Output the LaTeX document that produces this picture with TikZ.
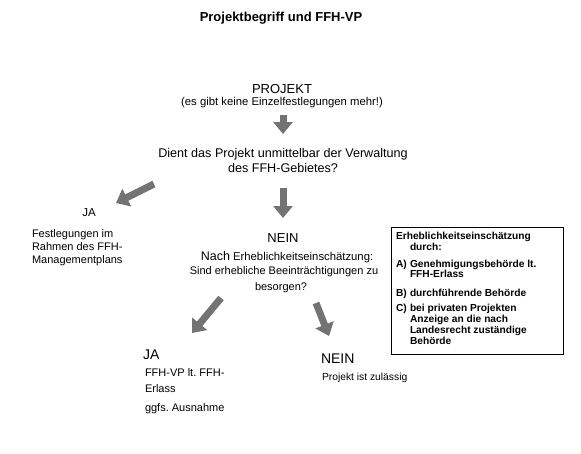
\documentclass[tikz,border=0pt]{standalone}
\usepackage{fontspec}
\setmainfont{Liberation Sans}
\usetikzlibrary{arrows.meta}
\frenchspacing
\definecolor{arrowgray}{RGB}{115,115,115}
\newcommand{\fs}[1]{\fontsize{#1}{#1}\selectfont}
\tikzset{
  blockarrow/.style={draw=arrowgray, line width=7pt, -{Triangle[width=19pt,length=12pt]}},
  txt/.style={inner sep=0pt, outer sep=0pt},
  ctr/.style={txt, anchor=base},
  lft/.style={txt, anchor=base west},
  boxtxt/.style={txt, anchor=base west, font=\fs{10.2}\bfseries},
}
\begin{document}
\begin{tikzpicture}[x=1pt, y=-1pt]
\useasboundingbox (0,0) rectangle (581,453);
% title
\node[ctr, font=\fs{13}\bfseries] (title) at (281,21) {Projektbegriff und FFH-VP};
% project
\node[ctr, font=\fs{13}] (proj) at (282,93) {PROJEKT};
\node[ctr, font=\fs{11.3}] (projsub) at (282,105) {(es gibt keine Einzelfestlegungen mehr!)};
\coordinate (a1s) at (283,115); \coordinate (a1e) at (283,134);
\draw[blockarrow] (a1s) -- (a1e);
% question 1
\node[ctr, font=\fs{12.6}] (q1a) at (283,157.5) {Dient das Projekt unmittelbar der Verwaltung};
\node[ctr, font=\fs{12.6}] (q1b) at (283,172.5) {des FFH-Gebietes?};
\coordinate (a2s) at (283,188); \coordinate (a2e) at (283,218);
\draw[blockarrow] (a2s) -- (a2e);
\coordinate (a3s) at (154,184); \coordinate (a3e) at (116,203);
\draw[blockarrow] (a3s) -- (a3e);
% left JA
\node[ctr, font=\fs{11.5}] (ja1) at (89,216) {JA};
\node[lft, font=\fs{11}] (fl1) at (32,237) {Festlegungen im};
\node[lft, font=\fs{11}] (fl2) at (32,250) {Rahmen des FFH-};
\node[lft, font=\fs{11}] (fl3) at (32,263) {Managementplans};
% middle NEIN
\node[ctr, font=\fs{13}] (nein1) at (283,242.5) {NEIN};
\node[ctr, font=\fs{11.3}] (q2a) at (287,260) {{\fs{12.5}Nach} Erheblichkeitseinschätzung:};
\node[ctr, font=\fs{11}] (q2b) at (284,274) {Sind erhebliche Beeinträchtigungen zu};
\node[ctr, font=\fs{11}] (q2c) at (281,290) {besorgen?};
\coordinate (a4s) at (221,298); \coordinate (a4e) at (192,333);
\draw[blockarrow] (a4s) -- (a4e);
\coordinate (a5s) at (316,303); \coordinate (a5e) at (329,336);
\draw[blockarrow] (a5s) -- (a5e);
% lower JA
\node[lft, font=\fs{14}] (ja2) at (143,359) {JA};
\node[lft, font=\fs{11}] (vp1) at (145,376) {FFH-VP lt. FFH-};
\node[lft, font=\fs{11}] (vp2) at (145,392) {Erlass};
\node[lft, font=\fs{11}] (vp3) at (145,411) {ggfs. Ausnahme};
% lower NEIN
\node[lft, font=\fs{14}] (nein2) at (321,363) {NEIN};
\node[lft, font=\fs{10.3}] (zul) at (322,380) {Projekt ist zulässig};
% info box
\node[draw, line width=1.3pt, minimum width=172pt, minimum height=127pt, anchor=north west, inner sep=0pt] (infobox) at (390.5,227) {};
\node[boxtxt] (b0) at (396,239) {Erheblichkeitseinschätzung};
\node[boxtxt] (b1) at (410,250) {durch:};
\node[boxtxt] (bA) at (396,267) {A)};
\node[boxtxt] (bA1) at (410,267) {Genehmigungsbehörde lt.};
\node[boxtxt] (bA2) at (410,277) {FFH-Erlass};
\node[boxtxt] (bB) at (396,296) {B)};
\node[boxtxt] (bB1) at (410,296) {durchführende Behörde};
\node[boxtxt] (bC) at (396,311) {C)};
\node[boxtxt] (bC1) at (410,311) {bei privaten Projekten};
\node[boxtxt] (bC2) at (410,322) {Anzeige an die nach};
\node[boxtxt] (bC3) at (410,333) {Landesrecht zuständige};
\node[boxtxt] (bC4) at (410,344) {Behörde};
\end{tikzpicture}
\end{document}
